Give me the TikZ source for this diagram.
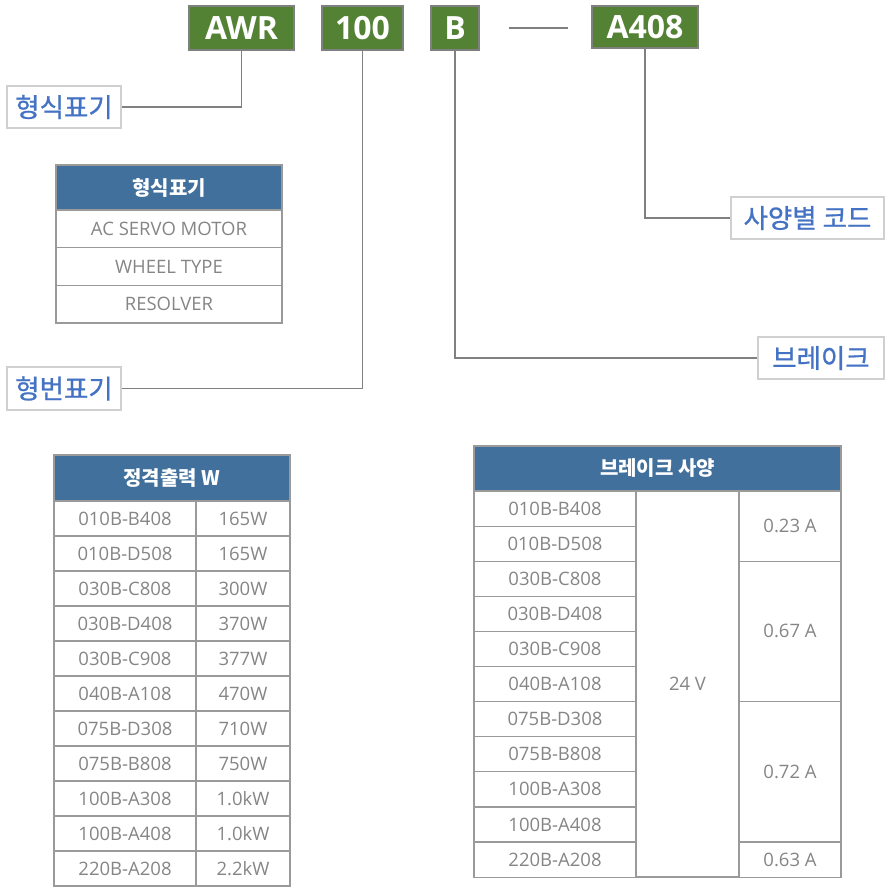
\documentclass[tikz,border=0pt]{standalone}
\usepackage{fontspec}
\setmainfont{Open Sans}
\newfontfamily\cjk{Noto Sans CJK KR}
\newfontfamily\cjkm[FakeBold=0.8]{Noto Sans CJK KR}
\newfontfamily\osans{Open Sans}
\definecolor{grn}{HTML}{548235}
\definecolor{hdr}{HTML}{41709C}
\definecolor{lblue}{HTML}{4472C4}
\definecolor{lnk}{HTML}{808080}
\definecolor{tbl}{HTML}{9A9A9A}
\definecolor{txt}{HTML}{858585}
\definecolor{lbord}{HTML}{D0D0D0}
\begin{document}
\begin{tikzpicture}[x=1pt,y=-1pt,
  gbox/.style={draw=lnk,line width=1.5pt,fill=grn,text=white,inner sep=0pt,minimum height=44pt,
    font=\osans\bfseries\fontsize{32}{32}\selectfont},
  lbl/.style={draw=lbord,line width=1.2pt,fill=white,text=lblue,inner sep=0pt,minimum height=42pt,
    font=\cjkm\fontsize{26.5}{26.5}\selectfont},
  hdrc/.style={draw=tbl,line width=1.2pt,fill=hdr,text=white,inner sep=0pt,
    font=\cjk\bfseries\fontsize{20}{20}\selectfont},
  cell/.style={draw=tbl,line width=1.2pt,text=txt,inner sep=0pt,
    font=\osans\fontsize{18.5}{18.5}\selectfont},
  link/.style={draw=lnk,line width=1.8pt}]
\useasboundingbox (0,0) rectangle (889,892);
% top code boxes
\node[gbox,minimum width=105pt] (awr) at (241.5,28) {AWR};
\node[gbox,minimum width=81pt] (num) at (362.5,28) {100};
\node[gbox,minimum width=48pt] (brk) at (455,28) {B};
\node[gbox,minimum width=106pt,minimum height=42pt] (spec) at (645,27) {A408};
\coordinate (d1) at (509,28);
\coordinate (d2) at (568,28);
\draw[link] (d1) -- (d2);
% labels
\node[lbl,minimum width=114pt] (l1) at (64,107) {형식표기};
\node[lbl,minimum width=114pt,minimum height=43pt] (l2) at (64,388.5) {형번표기};
\node[lbl,minimum width=126pt] (l3) at (821,358) {브레이크};
\node[lbl,minimum width=153pt] (l4) at (807.5,218) {사양별 코드};
\draw[link] (awr.south) |- (l1.east);
\draw[link] (num.south) |- (l2.east);
\draw[link] (brk.south) |- (l3.west);
\draw[link] (spec.south) |- (l4.west);
% table 1
\node[hdrc,minimum width=226pt,minimum height=45pt] (t1h) at (169,187.5) {형식표기};
\foreach \t [count=\i from 0] in {AC SERVO MOTOR,WHEEL TYPE,RESOLVER}{
  \node[cell,minimum width=226pt,minimum height=37.67pt] (t1r\i) at (169,{228.83+37.67*\i}) {\t};
}
% table 2
\node[hdrc,minimum width=236pt,minimum height=46pt] (t2h) at (172,478) {정격출력 W};
\foreach \a/\b [count=\i from 0] in {010B-B408/165W,010B-D508/165W,030B-C808/300W,030B-D408/370W,030B-C908/377W,040B-A108/470W,075B-D308/710W,075B-B808/750W,100B-A308/1.0kW,100B-A408/1.0kW,220B-A208/2.2kW}{
  \node[cell,minimum width=142pt,minimum height=35pt] (t2a\i) at (125,{518.5+35*\i}) {\a};
  \node[cell,minimum width=94pt,minimum height=35pt] (t2b\i) at (243,{518.5+35*\i}) {\b};
}
% table 3
\node[hdrc,minimum width=367pt,minimum height=45pt] (t3h) at (657.5,468.5) {브레이크 사양};
\foreach \a [count=\i from 0] in {010B-B408,010B-D508,030B-C808,030B-D408,030B-C908,040B-A108,075B-D308,075B-B808,100B-A308,100B-A408,220B-A208}{
  \node[cell,minimum width=162pt,minimum height=35.1pt] (t3a\i) at (555,{508.55+35.1*\i}) {\a};
}
\node[cell,minimum width=103pt,minimum height=386pt] (t3v) at (687.5,684) {24 V};
\node[cell,minimum width=102pt,minimum height=70.2pt] (t3c0) at (790,526.1) {0.23 A};
\node[cell,minimum width=102pt,minimum height=140.4pt] (t3c1) at (790,631.4) {0.67 A};
\node[cell,minimum width=102pt,minimum height=140.4pt] (t3c2) at (790,771.8) {0.72 A};
\node[cell,minimum width=102pt,minimum height=35.1pt] (t3c3) at (790,859.55) {0.63 A};
\end{tikzpicture}
\end{document}
